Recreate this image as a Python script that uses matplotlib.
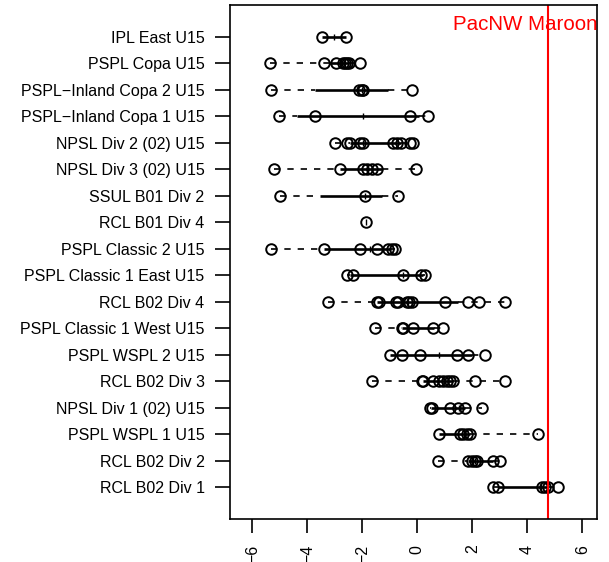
import numpy as np
import matplotlib
matplotlib.use("Agg")
import matplotlib.pyplot as plt

plt.rcParams['font.family'] = ['Liberation Sans', 'DejaVu Sans']

# teams, top to bottom
teams = ["IPL East U15", "PSPL Copa U15", "PSPL\u2212Inland Copa 2 U15",
         "PSPL\u2212Inland Copa 1 U15", "NPSL Div 2 (02) U15", "NPSL Div 3 (02) U15",
         "SSUL B01 Div 2", "RCL B01 Div 4", "PSPL Classic 2 U15",
         "PSPL Classic 1 East U15", "RCL B02 Div 4", "PSPL Classic 1 West U15",
         "PSPL WSPL 2 U15", "RCL B02 Div 3", "NPSL Div 1 (02) U15",
         "PSPL WSPL 1 U15", "RCL B02 Div 2", "RCL B02 Div 1"]

# individual ratings per team
points = [
    [-3.48, -2.59],
    [-5.36, -3.39, -2.96, -2.70, -2.62, -2.55, -2.50, -2.08],
    [-5.33, -2.11, -2.02, -1.96, -0.20],
    [-5.02, -3.72, -0.27, 0.40],
    [-2.99, -2.57, -2.45, -2.08, -1.99, -0.87, -0.75, -0.60, -0.27, -0.15],
    [-5.20, -2.81, -1.96, -1.84, -1.66, -1.48, -0.06],
    [-4.99, -1.90, -0.71],
    [-1.87],
    [-5.33, -3.38, -2.08, -1.48, -1.05, -0.93, -0.81],
    [-2.57, -2.35, -0.53, 0.12, 0.28],
    [-3.26, -1.48, -1.38, -0.79, -0.69, -0.39, -0.29, -0.20, 1.01, 1.85, 2.25, 3.19],
    [-1.54, -0.57, -0.51, -0.15, 0.56, 0.95],
    [-0.99, -0.57, 0.10, 1.43, 1.85, 2.46],
    [-1.66, 0.16, 0.22, 0.58, 0.77, 0.95, 1.07, 1.19, 1.31, 2.10, 3.19],
    [0.46, 0.52, 1.19, 1.49, 1.73, 2.34],
    [0.80, 1.55, 1.67, 1.80, 1.92, 4.40],
    [0.76, 1.85, 1.98, 2.10, 2.16, 2.76, 3.01],
    [2.76, 2.95, 4.52, 4.64, 4.76, 5.13],
]

# box summaries: whisker low, q1, median, q3, whisker high
wlo = [-3.48, -5.36, -5.33, -5.02, -2.99, -5.20, -4.99, -1.87, -5.33,
       -2.57, -3.26, -1.54, -0.99, -1.66, 0.46, 0.80, 0.76, 2.76]
q1 = [-3.48, -3.20, -3.72, -4.39, -2.45, -2.81, -3.54, -1.87, -3.38,
      -2.45, -1.48, -0.57, -0.99, 0.20, 0.50, 0.80, 1.85, 2.95]
med = [-3.03, -2.62, -2.02, -1.96, -1.99, -1.84, -1.90, -1.87, -1.72,
       -0.53, -0.34, -0.33, 0.77, 0.90, 1.50, 1.70, 2.10, 4.50]
q3 = [-2.59, -2.50, -1.05, 0.05, -0.60, -1.30, -1.30, -1.87, -0.95,
      0.20, 1.49, 0.60, 2.00, 1.30, 1.75, 1.90, 2.76, 4.70]
whi = [-2.59, -2.08, -0.20, 0.40, -0.15, -0.06, -0.71, -1.87, -0.81,
       0.28, 3.19, 0.95, 2.46, 3.19, 2.34, 4.40, 3.01, 5.13]

pacnw = 4.76

fig = plt.figure(figsize=(6.09, 5.62), dpi=100)
ax = fig.add_axes([0.3777, 0.0765, 0.6021, 0.9146])

n = len(teams)
ypos = np.arange(n, 0, -1)

for i in range(n):
    y = ypos[i]
    ax.plot([wlo[i], q1[i]], [y, y], color='black', lw=1.2, ls=(0, (3.8, 4.2)))
    ax.plot([q3[i], whi[i]], [y, y], color='black', lw=1.2, ls=(0, (3.8, 4.2)))
    ax.plot([q1[i], q3[i]], [y, y], color='black', lw=1.9, solid_capstyle='butt')
    ax.plot([med[i]], [y], marker='|', ms=4, mew=1, color='black')
    ax.plot(points[i], [y] * len(points[i]), ls='none', marker='o', ms=7.6,
            mfc='none', mec='black', mew=1.4)

ax.axvline(pacnw, color='red', lw=1.5)
ax.text(1.31, 18.27, "PacNW Maroon", color='red', fontsize=14.8, ha='left',
        va='baseline', clip_on=True)

ax.set_xlim(-6.81, 6.52)
ax.set_ylim(-0.21, 19.21)
ax.set_yticks(ypos)
ax.set_yticklabels(teams, fontsize=11.5)
ax.set_xticks(np.arange(-6, 7, 2))
ax.set_xticklabels([str(v).replace('-', '\u2212') for v in range(-6, 7, 2)],
                   rotation=90, fontsize=11.5)
ax.tick_params(axis='y', length=10.8, width=1.2, pad=7.5)
ax.tick_params(axis='x', length=10, width=1.2, pad=8.5)
for s in ax.spines.values():
    s.set_linewidth(1.2)

fig.savefig("out.png", dpi=100)
